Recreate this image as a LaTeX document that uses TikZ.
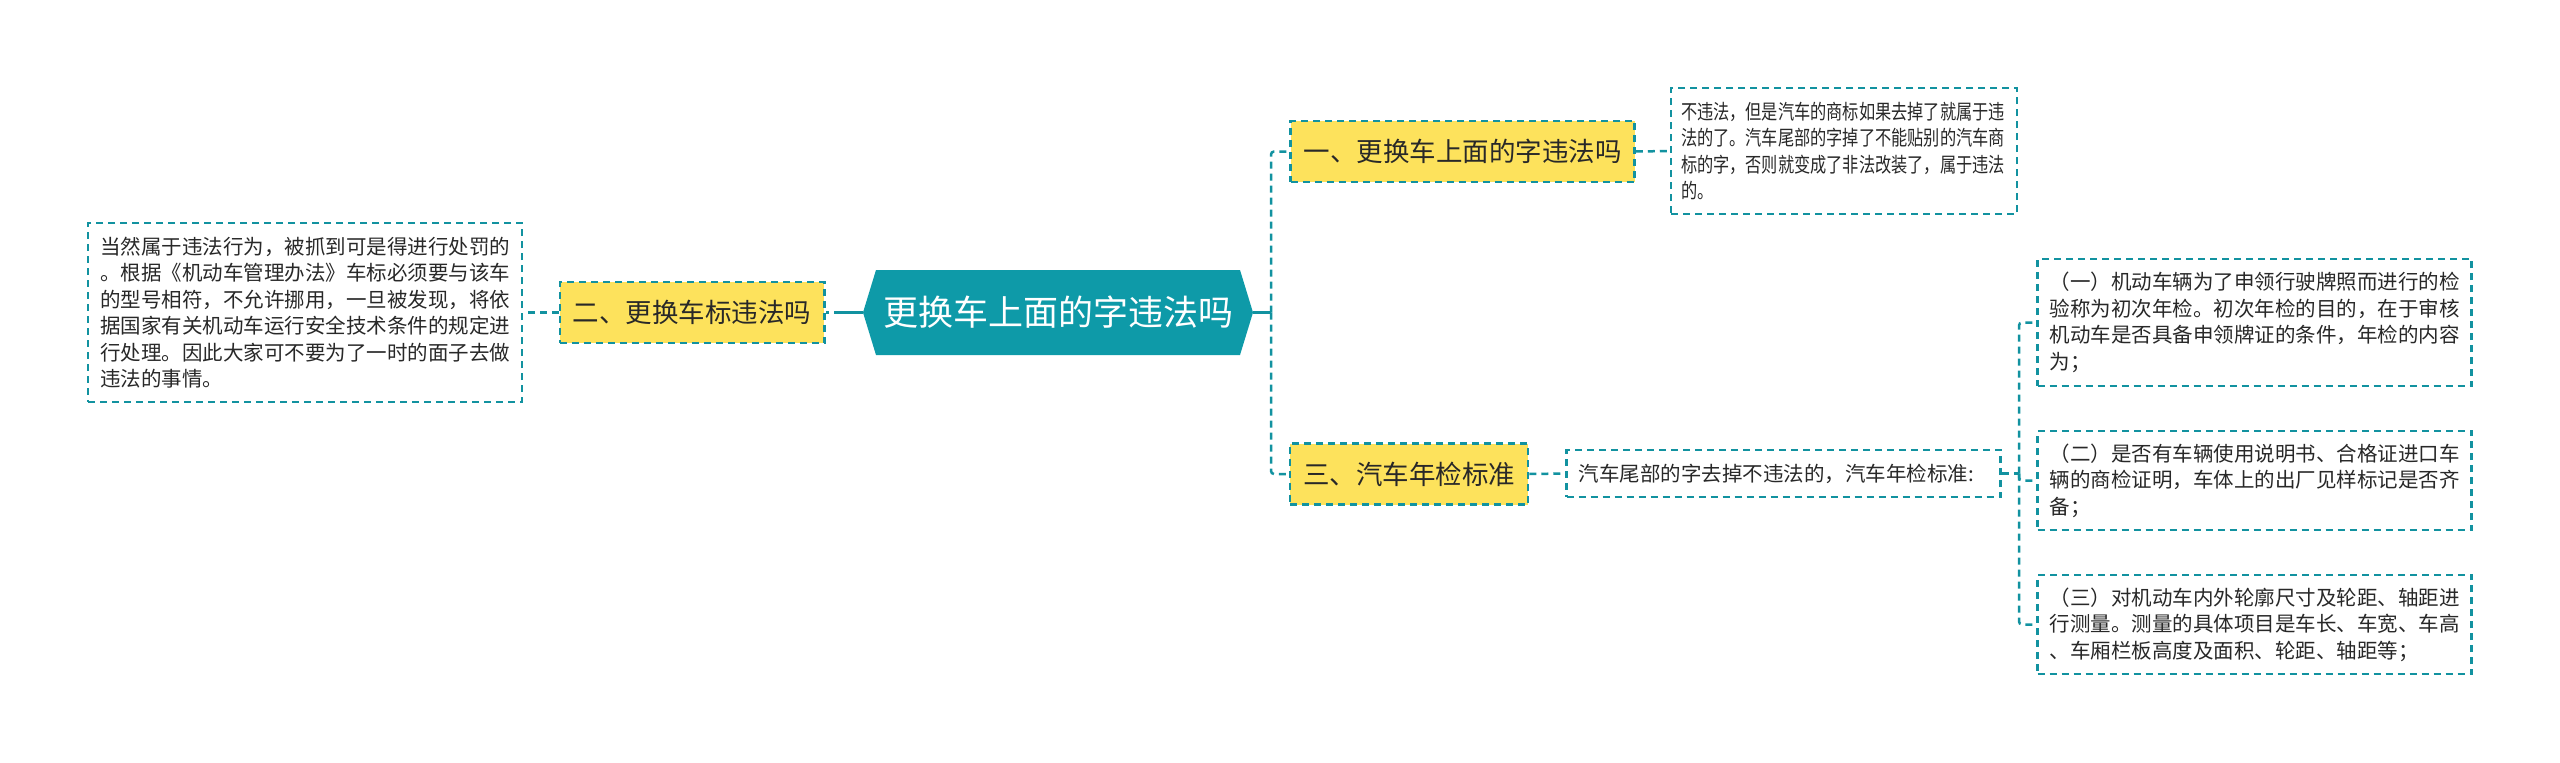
\documentclass[tikz,border=0pt]{standalone}
\usepackage{fontspec}
\setmainfont{Noto Sans CJK SC}
\usepackage{xcolor}
\usepackage{tikz}
\usetikzlibrary{calc,shapes.symbols}

\definecolor{teal}{RGB}{18,146,160}
\definecolor{rootfill}{RGB}{14,154,168}
\definecolor{topicfill}{RGB}{253,226,92}
\definecolor{ink}{RGB}{40,40,40}

\begin{document}
\begin{tikzpicture}[x=1pt,y=-1pt,
          every node/.style={text=ink},
          root/.style={signal,signal to=west and east,signal pointer angle=146,fill=rootfill,
            text=white,minimum width=390pt,minimum height=85pt,inner sep=0pt,
            font=\fontsize{35}{40}\selectfont},
          topic/.style={draw=teal,fill=topicfill,line width=2.5pt,dash pattern=on 7pt off 5pt,
            minimum height=61pt,inner xsep=13pt,font=\fontsize{26.5}{30}\selectfont},
          note/.style={draw=teal,fill=white,line width=2.5pt,dash pattern=on 7pt off 5pt,
            align=left,text width=410pt,inner xsep=12pt,inner ysep=8pt,
            font=\fontsize{20.5}{26.5}\selectfont},
          link/.style={teal,line width=2.5pt,dash pattern=on 7pt off 5pt,rounded corners=3pt},
          stub/.style={teal,line width=3pt}]
        \useasboundingbox (0,0) rectangle (2560,763);
        \node[root] (root) at (1058,312.5) {更换车上面的字违法吗};
        \node[topic] (two) at (692,312.5) {二、更换车标违法吗};
        \node[note,minimum height=179pt] (twotxt) at (305,312.5) {当然属于违法行为，被抓到可是得进行处罚的\\。根据《机动车管理办法》车标必须要与该车\\的型号相符，不允许挪用，一旦被发现，将依\\据国家有关机动车运行安全技术条件的规定进\\行处理。因此大家可不要为了一时的面子去做\\违法的事情。};
        \node[topic] (one) at (1462.5,151.5) {一、更换车上面的字违法吗};
        \node[note,minimum height=126pt,text width=326pt,inner xsep=10pt,
              font=\fontsize{20.5}{26.5}\selectfont\addfontfeature{FakeStretch=0.79}] (onetxt) at (1844,151) {不违法，但是汽车的商标如果去掉了就属于违\\法的了。汽车尾部的字掉了不能贴别的汽车商\\标的字，否则就变成了非法改装了，属于违法\\的。};
        \node[topic] (three) at (1409,474) {三、汽车年检标准};
        \node[note,minimum height=47pt] (threetxt) at (1783.5,473.5) {汽车尾部的字去掉不违法的，汽车年检标准:};
        \node[note,minimum height=127pt] (sub1) at (2254.5,322.5) {（一）机动车辆为了申领行驶牌照而进行的检\\验称为初次年检。初次年检的目的，在于审核\\机动车是否具备申领牌证的条件，年检的内容\\为；};
        \node[note,minimum height=99pt] (sub2) at (2254.5,480.5) {（二）是否有车辆使用说明书、合格证进口车\\辆的商检证明，车体上的出厂见样标记是否齐\\备；};
        \node[note,minimum height=99pt] (sub3) at (2254.5,624.5) {（三）对机动车内外轮廓尺寸及轮距、轴距进\\行测量。测量的具体项目是车长、车宽、车高\\、车厢栏板高度及面积、轮距、轴距等；};
        \coordinate (rj) at (1271,312.5);
        \coordinate (lj) at (841,312.5);
        \coordinate (tj) at (2019,473.5);
        \draw[stub] (root.east) -- (rj); \draw[stub] (root.west) -- (lj);
        \draw[link] (rj) |- (one.west); \draw[link] (rj) |- (three.west);
        \draw[link] (lj) -- (two.east);
        \draw[link] (two.west) -- (twotxt.east);
        \draw[link] (one.east) -- (onetxt.west);
        \draw[link] (three.east) -- (threetxt.west);
        \draw[link] (threetxt.east) -- (tj);
        \draw[link] (tj) |- (sub1.west); \draw[link] (tj) |- (sub2.west); \draw[link] (tj) |- (sub3.west);
      \end{tikzpicture}
\end{document}
